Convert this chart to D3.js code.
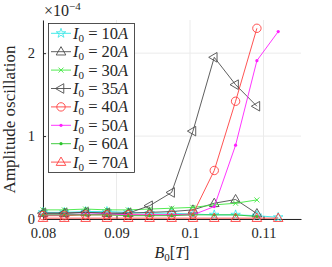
<!DOCTYPE html>
<html>
<head>
<meta charset="utf-8">
<script src="https://cdn.jsdelivr.net/npm/d3@7"></script>
<style>
  body { margin: 0; background: #fff; }
  text { font-family: "Liberation Serif", "DejaVu Serif", serif; fill: #262626; }
</style>
</head>
<body>
<div id="chart"></div>
<script>
// B0 in tesla, amplitudes in units of 1e-4
const b0 = [0.0800, 0.0829, 0.0858, 0.0887, 0.0916, 0.0945, 0.0975, 0.1004, 0.1033, 0.1062, 0.1091, 0.1120];
const currents = ["10", "20", "30", "35", "40", "50", "60", "70"];
const amp10 = [0.08, 0.08, 0.09, 0.09, 0.08, 0.07, 0.07, 0.06, 0.05, 0.05, 0.04, 0.02];
const amp20 = [0.07, 0.07, 0.08, 0.07, 0.07, 0.08, 0.09, 0.11, 0.19, 0.235, 0.065];
const amp30 = [0.11, 0.11, 0.12, 0.11, 0.11, 0.12, 0.13, 0.14, 0.17, 0.19, 0.23];
const amp35 = [0.07, 0.07, 0.08, 0.07, 0.07, 0.16, 0.32, 1.06, 1.95, 1.62, 1.36];
const amp40 = [0.04, 0.04, 0.05, 0.05, 0.05, 0.05, 0.05, 0.06, 0.585, 1.42, 2.30];
const amp50 = [0.05, 0.05, 0.06, 0.06, 0.05, 0.05, 0.05, 0.05, 0.15, 0.89, 1.91, 2.26];
const amp60 = [0.05, 0.05, 0.05, 0.05, 0.04, 0.04, 0.04, 0.05, 0.05, 0.05, 0.03];
const amp70 = [0.01, 0.01, 0.01, 0.01, 0.01, 0.01, 0.01, 0.01, 0.01, 0.01, 0.01, 0.01];
const xTicks = [0.08, 0.09, 0.1, 0.11];
const yTicks = [0, 1, 2];

const seriesList = [
  { label: currents[0], values: amp10, color: "#2ee6e6", marker: "hexagram" },
  { label: currents[1], values: amp20, color: "#4d4d4d", marker: "up" },
  { label: currents[2], values: amp30, color: "#3ee83e", marker: "cross" },
  { label: currents[3], values: amp35, color: "#4d4d4d", marker: "left" },
  { label: currents[4], values: amp40, color: "#ff4040", marker: "circle" },
  { label: currents[5], values: amp50, color: "#ff1fff", marker: "dot" },
  { label: currents[6], values: amp60, color: "#2bc62b", marker: "dot" },
  { label: currents[7], values: amp70, color: "#ff4040", marker: "up" }
];

const width = 332, height = 267,
      margin = ({ top: 20, right: 31, bottom: 48, left: 43 });

const svg = d3.select("#chart").append("svg")
    .attr("width", width)
    .attr("height", height);

const x = d3.scaleLinear()
    .domain([0.08, 0.1151])
    .range([margin.left, width - margin.right]);

const y = d3.scaleLinear()
    .domain([0, 2.4])
    .range([height - margin.bottom, margin.top]);

// grid
svg.append("g")
    .selectAll("line")
    .data(xTicks)
    .join("line")
    .attr("x1", d => x(d)).attr("x2", d => x(d))
    .attr("y1", y(0)).attr("y2", y(2.4))
    .attr("stroke", "#ebebeb");

svg.append("g")
    .selectAll("line")
    .data(yTicks)
    .join("line")
    .attr("x1", x(0.08)).attr("x2", x(0.1151))
    .attr("y1", d => y(d)).attr("y2", d => y(d))
    .attr("stroke", "#ebebeb");

// axes
const xAxis = svg.append("g")
    .attr("transform", `translate(0,${y(0)})`)
    .call(d3.axisBottom(x).tickValues(xTicks).tickSizeInner(-3).tickSizeOuter(0).tickPadding(9)
      .tickFormat(d => String(+d.toFixed(2))));

const yAxis = svg.append("g")
    .attr("transform", `translate(${x(0.08)},0)`)
    .call(d3.axisLeft(y).tickValues(yTicks).tickSizeInner(-3).tickSizeOuter(0).tickPadding(8)
      .tickFormat(d3.format("d")));

[xAxis, yAxis].forEach(g => {
  g.select(".domain").attr("stroke", "#262626");
  g.selectAll(".tick line").attr("stroke", "#262626");
  g.selectAll(".tick text")
    .attr("font-family", "Liberation Serif, serif")
    .attr("font-size", 14.5)
    .attr("fill", "#262626");
});
yAxis.selectAll(".tick text").attr("dy", "0.28em");

// exponent label
const expo = svg.append("text")
    .attr("x", x(0.08) + 1)
    .attr("y", 16)
    .attr("font-size", 16);
expo.append("tspan").text("\u00d710");
expo.append("tspan").attr("dy", -6).attr("font-size", 11).text("\u22124");

// axis labels
const xl = svg.append("text")
    .attr("x", (x(0.08) + x(0.1151)) / 2)
    .attr("y", 258)
    .attr("text-anchor", "middle")
    .attr("font-size", 16);
xl.append("tspan").attr("font-style", "italic").text("B");
xl.append("tspan").attr("dy", 3).attr("font-size", 11).text("0");
xl.append("tspan").attr("dy", -3).text("[");
xl.append("tspan").attr("font-style", "italic").text("T");
xl.append("tspan").text("]");

svg.append("text")
    .attr("transform", `translate(15,${(y(0) + y(2.4)) / 2}) rotate(-90)`)
    .attr("text-anchor", "middle")
    .attr("font-size", 17)
    .text("Amplitude oscillation");

// markers
function drawMarker(g, type, color) {
  if (type === "circle") {
    g.append("circle").attr("r", 4.2).attr("fill", "none").attr("stroke", color).attr("stroke-width", 0.9);
  } else if (type === "dot") {
    g.append("circle").attr("r", 1.6).attr("fill", color);
  } else if (type === "up") {
    g.append("path").attr("d", d3.symbol(d3.symbolTriangle, 40)).attr("transform", "translate(0,0.5)")
      .attr("fill", "none").attr("stroke", color).attr("stroke-width", 0.9);
  } else if (type === "left") {
    g.append("path").attr("d", d3.symbol(d3.symbolTriangle, 40)).attr("transform", "rotate(-90)")
      .attr("fill", "none").attr("stroke", color).attr("stroke-width", 0.9);
  } else if (type === "cross") {
    g.append("path").attr("d", d3.symbol(d3.symbolX, 18))
      .attr("fill", "none").attr("stroke", color).attr("stroke-width", 0.9);
  } else if (type === "hexagram") {
    g.append("path").attr("d", d3.symbol(d3.symbolStar, 28))
      .attr("fill", "none").attr("stroke", color).attr("stroke-width", 0.8);
  }
}

const line = d3.line()
    .x((d, i) => x(b0[i]))
    .y(d => y(d));

const series = svg.append("g")
    .selectAll("g")
    .data(seriesList)
    .join("g");

series.append("path")
    .attr("d", d => line(d.values))
    .attr("fill", "none")
    .attr("stroke", d => d.color)
    .attr("stroke-width", 0.9);

series.each(function(s) {
  const grp = d3.select(this);
  s.values.forEach((v, i) => {
    const m = grp.append("g").attr("transform", `translate(${x(b0[i])},${y(v)})`);
    drawMarker(m, s.marker, s.color);
  });
});

// legend
const legend = svg.append("g");
legend.append("rect")
    .attr("x", 48.5).attr("y", 23.5)
    .attr("width", 86).attr("height", 149)
    .attr("fill", "#fff")
    .attr("stroke", "#262626")
    .attr("stroke-width", 0.8);

const item = legend.selectAll(".item")
    .data(seriesList)
    .join("g")
    .attr("class", "item")
    .attr("transform", (d, i) => `translate(0,${33.3 + i * 18.4})`);

item.append("line")
    .attr("x1", 51).attr("x2", 71)
    .attr("stroke", d => d.color)
    .attr("stroke-width", 0.9);

item.each(function(s) {
  const m = d3.select(this).append("g").attr("transform", "translate(61,0)");
  drawMarker(m, s.marker, s.color);
});

const lt = item.append("text")
    .attr("x", 73)
    .attr("y", 5.5)
    .attr("font-size", 16.5);
lt.append("tspan").attr("font-style", "italic").text("I");
lt.append("tspan").attr("dy", 3).attr("font-size", 11).text("0");
lt.append("tspan").attr("dy", -3).text(" = ");
lt.append("tspan").text(d => d.label);
lt.append("tspan").attr("font-style", "italic").text("A");
</script>
</body>
</html>
